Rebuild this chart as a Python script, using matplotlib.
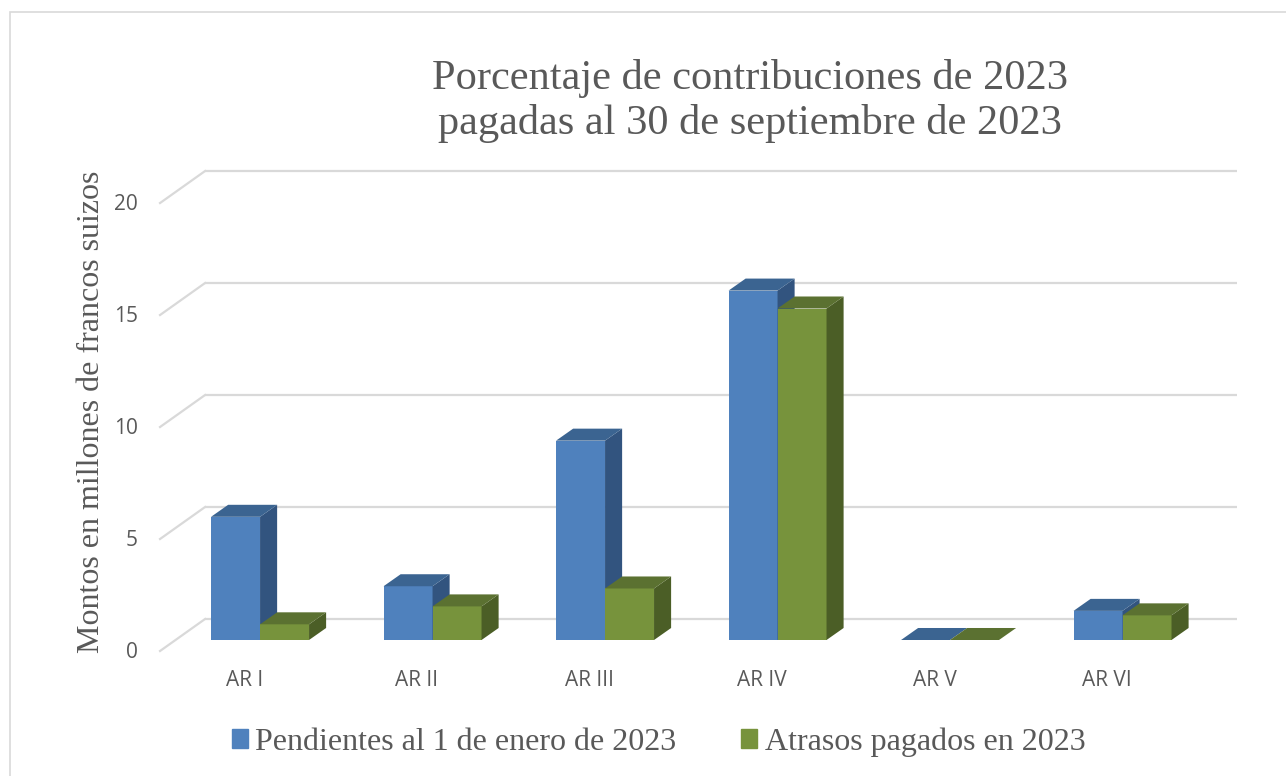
import matplotlib.pyplot as plt
from matplotlib.patches import Polygon, Rectangle

# chart data
categories = ['AR I', 'AR II', 'AR III', 'AR IV', 'AR V', 'AR VI']
pendientes = [5.5, 2.4, 8.9, 15.6, 0.0, 1.3]
atrasos = [0.7, 1.5, 2.3, 14.8, 0.0, 1.1]
y_ticks = [0, 5, 10, 15, 20]

series = [
    ('Pendientes al 1 de enero de 2023', pendientes, ('#4F81BD', '#3B6491', '#32547F')),
    ('Atrasos pagados en 2023', atrasos, ('#77933C', '#5B7131', '#4B5E26')),
]

grey = '#595959'
grid_c = '#D9D9D9'

fig = plt.figure(figsize=(12.86, 7.76), dpi=100)
# axes: x in category units, y in value units
ax = fig.add_axes([150 / 1286, 116 / 776, 1095 / 1286, 500 / 776])
ax.set_xlim(-0.638, 5.710)
ax.set_ylim(-0.893, 21.43)
ax.axis('off')

# pseudo 3D offsets (data units)
back_dx, back_dy = 0.171, 0.9375     # bar front plane -> back wall
front_dx, front_dy = -0.090, -0.491  # bar front plane -> floor front edge
bar_w = 0.284
depth_dx, depth_dy = 0.099, 0.536

# back wall gridlines + left floor/wall diagonals
x_back_left, x_back_right = -0.3188, 5.664
for v in y_ticks:
    ax.plot([x_back_left, x_back_right], [v + back_dy, v + back_dy],
            color=grid_c, lw=1.6, zorder=1, solid_capstyle='butt')
    ax.plot([x_back_left + front_dx - back_dx, x_back_left],
            [v + front_dy, v + back_dy], color=grid_c, lw=1.6, zorder=1)
    ax.text(x_back_left + front_dx - back_dx - 0.128, v + front_dy - 0.05, str(v),
            ha='right', va='center', fontsize=15, color=grey,
            family='Open Sans', clip_on=False)

# bars
for i, cat in enumerate(categories):
    for k, (name, vals, (c_front, c_top, c_side)) in enumerate(series):
        h = vals[i]
        x0 = i - bar_w + k * bar_w
        z = 10 + i * 3 + k
        ax.bar(x0, h, width=bar_w, align='edge', color=c_front,
               edgecolor='none', zorder=z)
        top = [(x0, h), (x0 + bar_w, h), (x0 + bar_w + depth_dx, h + depth_dy),
               (x0 + depth_dx, h + depth_dy)]
        side = [(x0 + bar_w, 0), (x0 + bar_w + depth_dx, depth_dy),
                (x0 + bar_w + depth_dx, h + depth_dy), (x0 + bar_w, h)]
        ax.add_patch(Polygon(side, closed=True, color=c_side, lw=0, zorder=z))
        ax.add_patch(Polygon(top, closed=True, color=c_top, lw=0, zorder=z))
    ax.text(i + front_dx, -1.82, cat, ha='center', va='center', fontsize=15,
            color=grey, family='Open Sans', clip_on=False)

# title and axis label
fig.text(0.583, 1 - 101 / 776, 'Porcentaje de contribuciones de 2023\npagadas al 30 de septiembre de 2023',
         ha='center', va='center', fontsize=30.5, color=grey,
         family='Liberation Serif', linespacing=1.17)
fig.text(92 / 1286, 1 - 412 / 776, 'Montos en millones de francos suizos',
         ha='center', va='center', rotation=90, fontsize=23, color=grey,
         family='Liberation Serif')

# legend
handles = [Rectangle((0, 0), 1, 1, color=c[0]) for _, _, c in series]
fig.legend(handles, [s[0] for s in series], loc='center',
           bbox_to_anchor=(0.512, 1 - 742 / 776), ncol=2, frameon=False,
           prop={'family': 'Liberation Serif', 'size': 23},
           labelcolor=grey, handlelength=0.5, handleheight=0.5,
           handletextpad=0.25, columnspacing=2.0)

# chart border
fig.patches.append(Rectangle((10 / 1286, -0.1), 1.2, 1 - 12 / 776 + 0.1,
                             transform=fig.transFigure, fill=False,
                             edgecolor='#D9D9D9', lw=1.2))

fig.savefig('out.png', dpi=100)
